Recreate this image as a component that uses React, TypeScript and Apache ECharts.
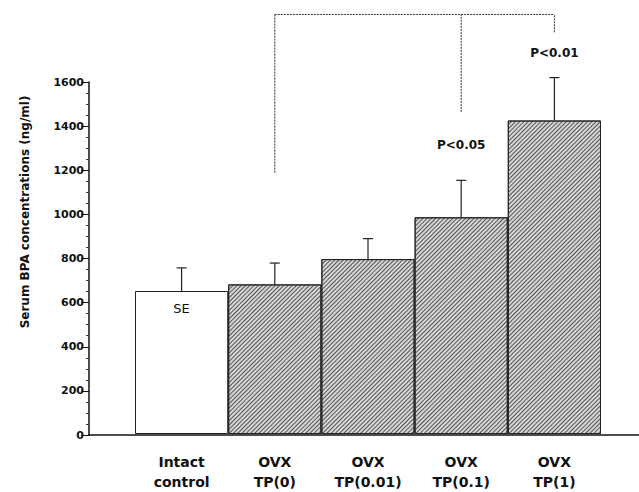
import React, { useEffect, useRef } from "react";
import * as echarts from "echarts";

const categories = ["Intact\ncontrol", "OVX\nTP(0)", "OVX\nTP(0.01)", "OVX\nTP(0.1)", "OVX\nTP(1)"];
const means = [650, 680, 795, 985, 1425];
const errors = [105, 97, 93, 168, 195];
const yMin = 0;
const yMax = 1600;
const yInterval = 200;
const yAxisTitle = "Serum BPA concentrations (ng/ml)";
const bracketTop = 1907;
const bracketLegs: [number, number][] = [
  [1, 1188],
  [3, 1464],
  [4, 1826],
];
const pLabels: [number, number, string][] = [
  [3, 1315, "P<0.05"],
  [4, 1731, "P<0.01"],
];
const seLabel = "SE";

const FONT = "DejaVu Sans";

export default function App() {
  const ref = useRef<HTMLDivElement>(null);

  useEffect(() => {
    if (!ref.current) return;
    const chart = echarts.init(ref.current, null, { renderer: "svg" });

    const hatchedBar = {
      color: "#d6d6d6",
      borderColor: "#222",
      borderWidth: 1,
      decal: {
        symbol: "rect",
        symbolSize: 1,
        dashArrayX: [1, 0],
        dashArrayY: [1, 1.6],
        rotation: -Math.PI / 4,
        color: "#555",
      },
    };

    const barData = means.map((v, i) =>
      i === 0
        ? {
            value: v,
            itemStyle: { color: "#fff", borderColor: "#222", borderWidth: 1 },
            label: {
              show: true,
              position: "insideTop",
              distance: 11,
              formatter: seLabel,
              fontFamily: FONT,
              fontSize: 13,
              color: "#111",
            },
          }
        : { value: v, itemStyle: hatchedBar }
    );

    const option: any = {
      animation: false,
      backgroundColor: "#fff",
      grid: [
        { left: 89, right: 0, top: 82, bottom: 57 },
        { left: 135, right: 38, top: 82, bottom: 57 },
      ],
      xAxis: [
        {
          gridIndex: 0,
          type: "value",
          min: 0,
          max: 1,
          axisLine: { show: true, lineStyle: { color: "#111", width: 1.5 } },
          axisTick: { show: false },
          axisLabel: { show: false },
          splitLine: { show: false },
        },
        {
          gridIndex: 1,
          type: "category",
          data: categories,
          axisLine: { show: false },
          axisTick: { show: false },
          axisLabel: {
            margin: 18,
            fontFamily: FONT,
            fontWeight: "bold",
            fontSize: 14,
            lineHeight: 20,
            color: "#111",
            interval: 0,
          },
        },
      ],
      yAxis: [
        {
          gridIndex: 0,
          type: "value",
          min: yMin,
          max: yMax,
          interval: yInterval,
          axisLine: { show: true, lineStyle: { color: "#111", width: 1.5 } },
          axisTick: { show: true, length: 8, lineStyle: { color: "#111", width: 1 } },
          minorTick: { show: true, splitNumber: 4, length: 3, lineStyle: { color: "#333", width: 1 } },
          axisLabel: {
            margin: 5,
            fontFamily: FONT,
            fontWeight: "bold",
            fontSize: 11,
            color: "#111",
            formatter: (v: number) => String(v),
          },
          splitLine: { show: false },
        },
        {
          gridIndex: 1,
          type: "value",
          min: yMin,
          max: yMax,
          show: false,
          splitLine: { show: false },
        },
      ],
      graphic: [
        {
          type: "text",
          x: 25,
          y: 212,
          rotation: Math.PI / 2,
          style: {
            text: yAxisTitle,
            fontFamily: FONT,
            fontWeight: "bold",
            fontSize: 12,
            fill: "#111",
            align: "center",
            verticalAlign: "middle",
          },
        },
      ],
      series: [
        {
          type: "bar",
          xAxisIndex: 1,
          yAxisIndex: 1,
          data: barData,
          barWidth: "100%",
          barCategoryGap: 0,
          z: 2,
        },
        {
          type: "custom",
          xAxisIndex: 1,
          yAxisIndex: 1,
          z: 3,
          data: means.map((m, i) => [i, m, errors[i]]),
          renderItem: (params: any, api: any) => {
            const i = api.value(0);
            const m = api.value(1);
            const e = api.value(2);
            const base = api.coord([i, m]);
            const top = api.coord([i, m + e]);
            const cap = 5;
            return {
              type: "group",
              children: [
                {
                  type: "line",
                  shape: { x1: base[0], y1: base[1], x2: top[0], y2: top[1] },
                  style: { stroke: "#222", lineWidth: 1.2 },
                },
                {
                  type: "line",
                  shape: { x1: top[0] - cap, y1: top[1], x2: top[0] + cap, y2: top[1] },
                  style: { stroke: "#222", lineWidth: 1.2 },
                },
              ],
            };
          },
        },
        {
          type: "custom",
          xAxisIndex: 1,
          yAxisIndex: 1,
          z: 3,
          clip: false,
          data: bracketLegs,
          renderItem: (params: any, api: any) => {
            const idx = params.dataIndex;
            const c = api.value(0);
            const v = api.value(1);
            const bottom = api.coord([c, v]);
            const top = api.coord([c, bracketTop]);
            const children: any[] = [
              {
                type: "line",
                shape: { x1: bottom[0], y1: bottom[1], x2: top[0], y2: top[1] },
                style: { stroke: "#333", lineWidth: 1, lineDash: [2, 1] },
              },
            ];
            if (idx > 0) {
              const prev = api.coord([bracketLegs[idx - 1][0], bracketTop]);
              children.push({
                type: "line",
                shape: { x1: prev[0], y1: prev[1], x2: top[0], y2: top[1] },
                style: { stroke: "#333", lineWidth: 1, lineDash: [2, 1] },
              });
            }
            return { type: "group", children };
          },
        },
        {
          type: "custom",
          xAxisIndex: 1,
          yAxisIndex: 1,
          z: 3,
          clip: false,
          data: pLabels,
          renderItem: (params: any, api: any) => {
            const p = api.coord([api.value(0), api.value(1)]);
            return {
              type: "text",
              x: p[0],
              y: p[1],
              style: {
                text: pLabels[params.dataIndex][2],
                fontFamily: FONT,
                fontWeight: "bold",
                fontSize: 12,
                fill: "#111",
                align: "center",
                verticalAlign: "middle",
              },
            };
          },
        },
      ],
    };

    chart.setOption(option);
    return () => chart.dispose();
  }, []);

  return (
    <div
      ref={ref}
      style={{ position: "fixed", left: 0, top: 0, width: 639, height: 492 }}
    />
  );
}
